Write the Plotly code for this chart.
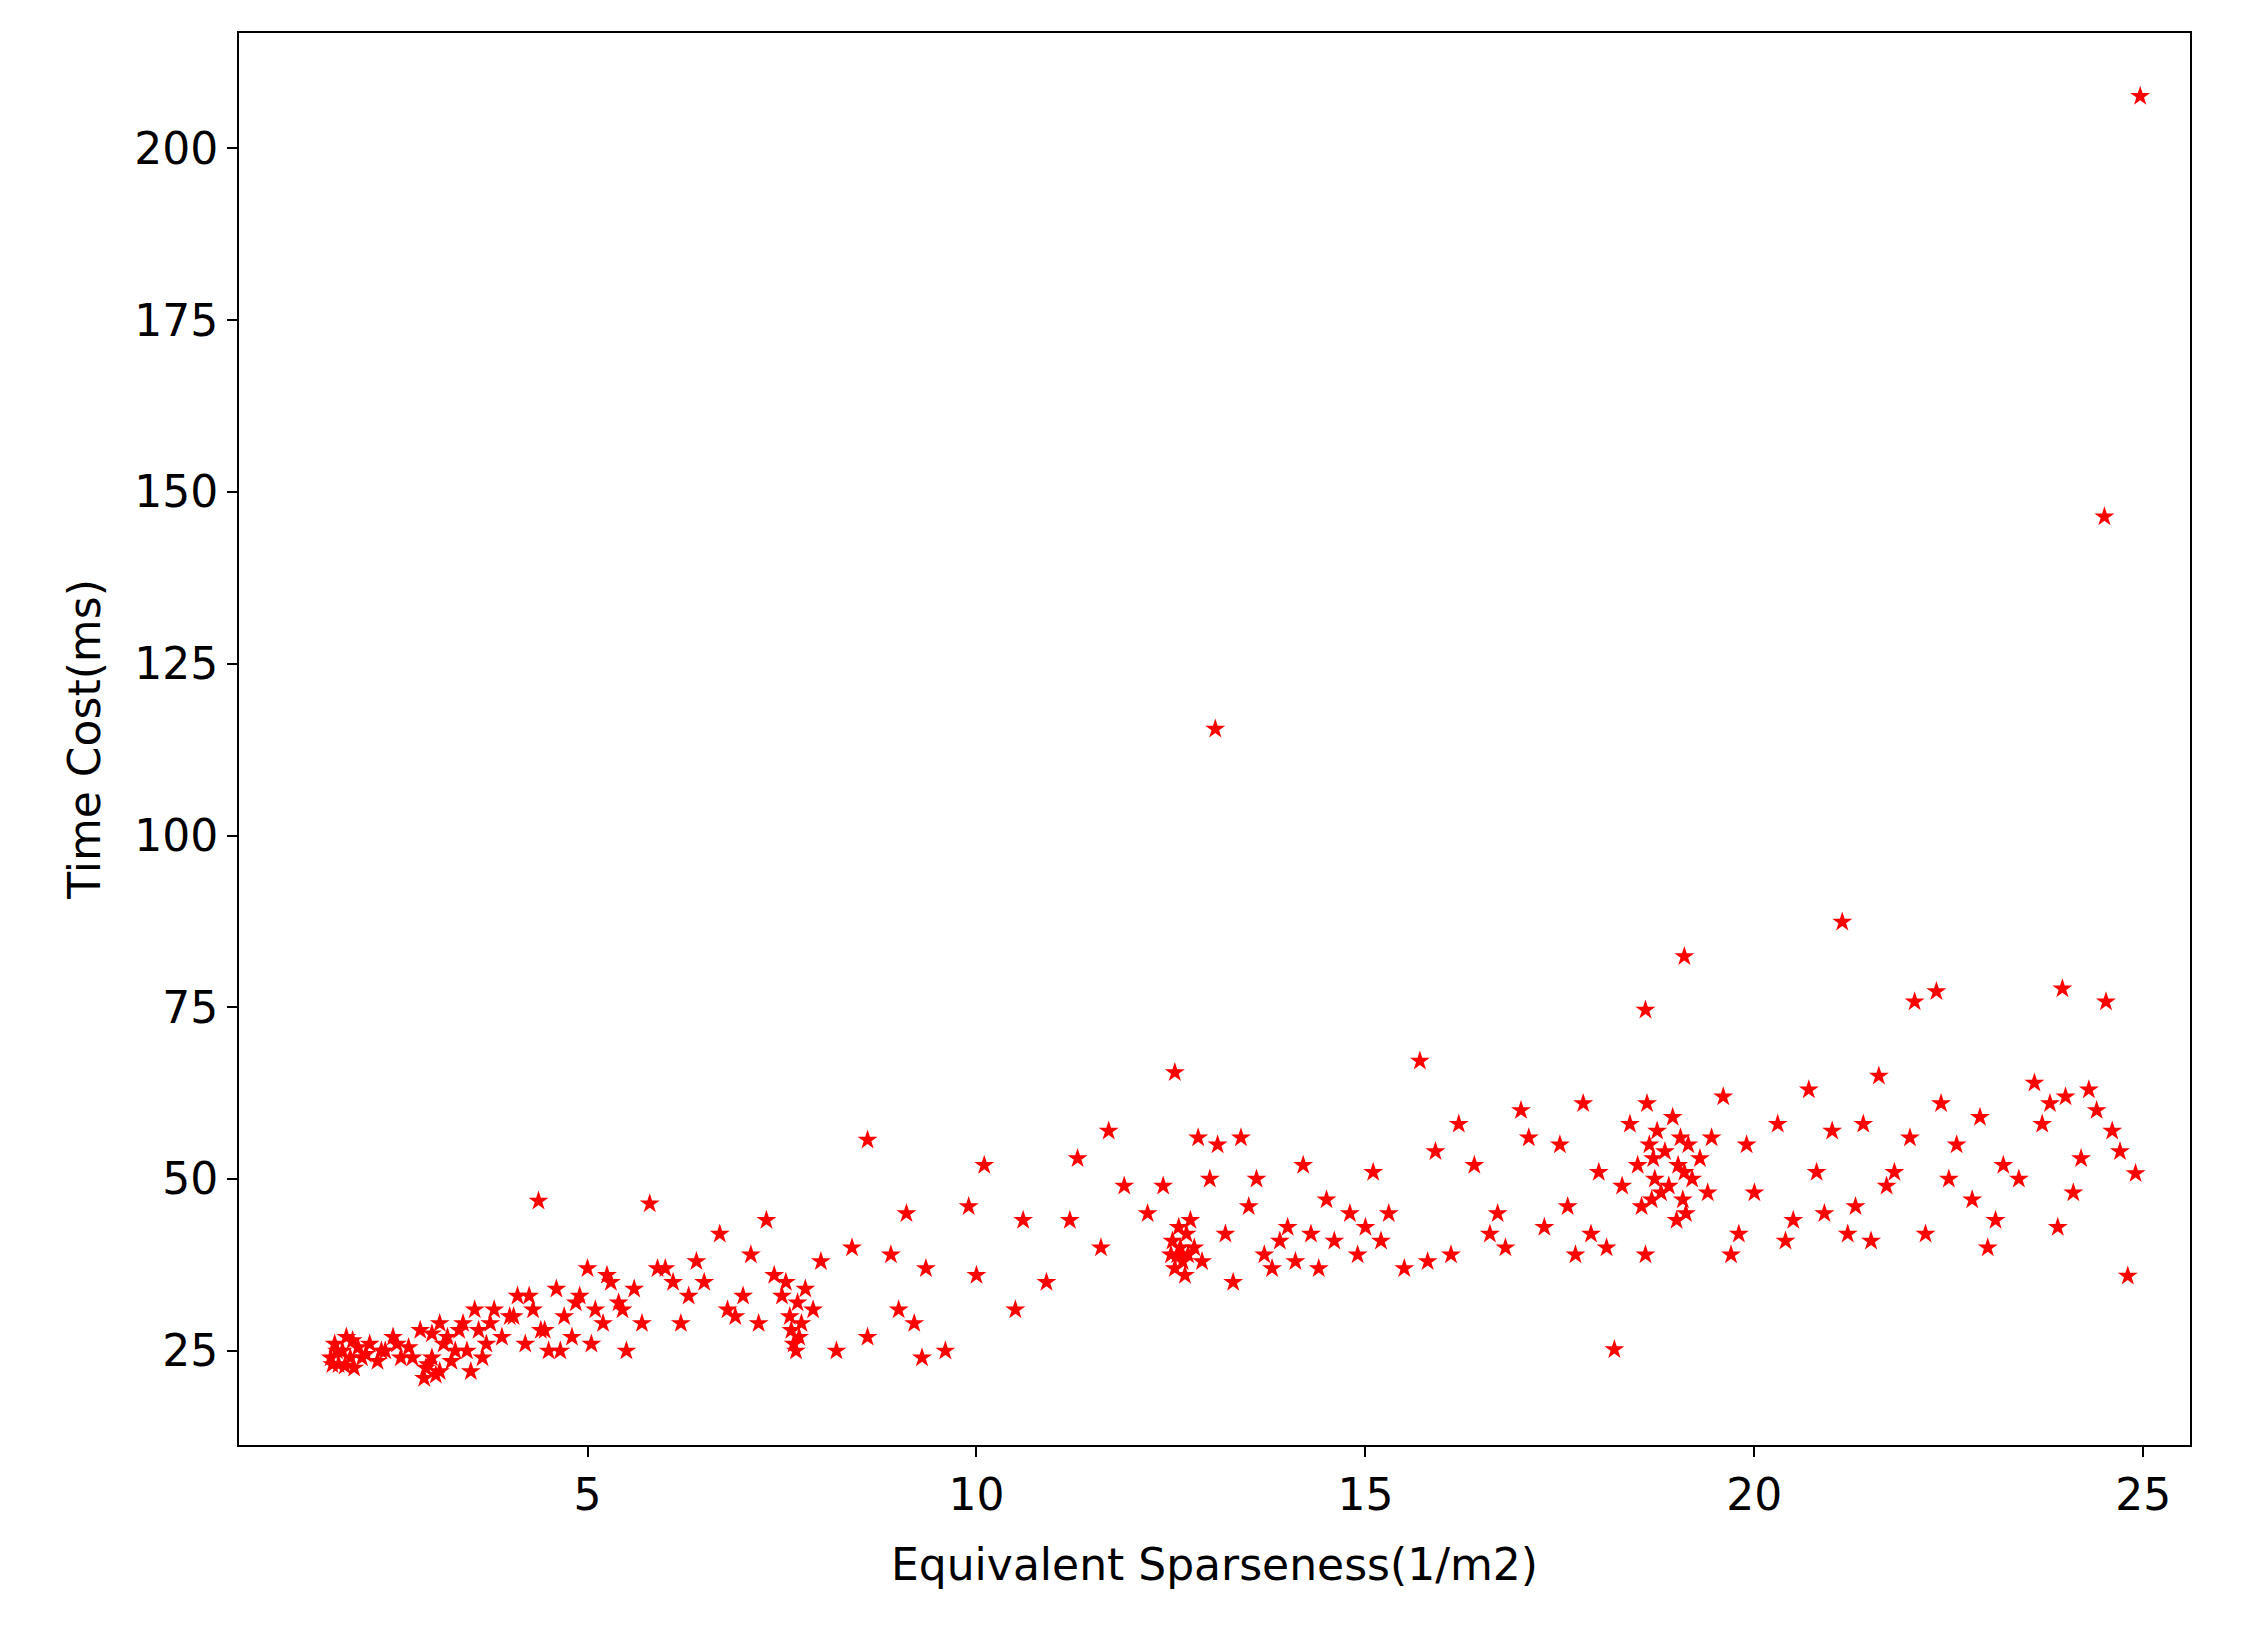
import plotly.graph_objects as go

x_vals = [
 24.96,24.5,13.07,21.13,19.1,18.6,23.96,22.34,24.52,22.06,18.2,24.8,24.9,12.55,15.7,8.6,4.37,5.8,
 1.7,1.75,1.8,1.85,1.9,1.95,2.0,2.05,2.1,2.2,2.3,2.4,2.5,2.6,2.7,1.72,1.78,1.88,1.98,2.15,2.35,2.55,2.75,2.85,
 2.9,2.95,3.0,3.1,3.2,3.3,3.4,3.5,3.6,3.7,3.8,3.9,4.0,3.05,3.15,3.25,3.35,3.45,3.55,3.65,3.75,2.92,3.0,3.1,
 4.1,4.2,4.3,4.4,4.5,4.6,4.7,4.8,4.9,5.0,5.1,5.2,5.3,5.4,5.5,5.6,5.7,4.05,4.25,4.45,4.65,4.85,5.05,5.25,5.45,
 5.9,6.0,6.1,6.2,6.3,6.4,6.5,6.7,6.8,6.9,7.0,7.1,7.2,7.3,7.4,7.5,7.55,7.6,7.62,7.65,7.68,7.7,7.72,7.75,7.8,7.9,8.0,8.2,8.4,8.6,
 8.9,9.0,9.1,9.2,9.3,9.35,9.6,9.9,10.0,10.1,10.5,10.6,10.9,11.2,11.3,11.6,11.7,11.9,12.2,12.4,
 12.5,12.52,12.55,12.58,12.6,12.62,12.65,12.68,12.7,12.72,12.75,12.8,12.85,12.9,13.0,13.1,13.2,13.3,13.4,13.5,13.6,13.7,13.8,13.9,14.0,
 14.1,14.2,14.3,14.4,14.5,14.6,14.8,14.9,15.0,15.1,15.2,15.3,15.5,15.8,15.9,16.1,16.2,16.4,16.6,16.7,16.8,17.0,17.1,17.3,17.5,17.6,17.7,17.8,17.9,18.0,18.1,
 18.3,18.4,18.5,18.55,18.6,18.62,18.65,18.68,18.7,18.72,18.75,18.8,18.85,18.9,18.95,19.0,19.02,19.05,19.08,19.1,19.12,19.15,19.2,19.3,19.4,19.45,
 19.6,19.7,19.8,19.9,20.0,20.3,20.4,20.5,20.7,20.8,20.9,21.0,21.2,21.3,21.4,21.5,21.6,21.7,21.8,22.0,22.2,22.4,22.5,22.6,22.8,22.9,23.0,23.1,23.2,23.4,23.6,23.7,23.8,23.9,24.0,24.1,24.2,24.3,24.4,24.6,24.7,
]
y_vals = [
 207.6,146.4,115.5,87.4,82.4,74.6,77.7,77.3,75.8,75.8,25.2,35.9,50.8,65.5,67.2,55.7,46.8,46.4,
 24,26,23,25,27,24,22.5,25.5,24,26,23.5,25,27,24,25.5,23,25,22.8,26.5,24.5,25,26,24,28,
 21,23,24,22,27,25,29,22,28,26,31,27,30,21.5,26,23.5,28,25,31,24,29,22.5,27.5,29,
 33,26,31,28,25,34,30,27,33,37,31,29,35,32,25,34,29,30,33,28,25,32,26,36,31,37,
 37,35,29,33,38,35,42,31,30,33,39,29,44,36,33,35,30,28,26,25,32,27,29,34,31,38,25,40,27,39,
 31,45,29,24,37,25,46,36,52,31,44,35,44,53,40,57,49,45,49,39,
 41,37,39,43,40,38,36,42,39,44,40,56,38,50,55,42,35,56,46,50,39,37,41,43,38,
 52,42,37,47,41,45,39,43,51,41,45,37,38,54,39,58,52,42,45,40,60,56,43,55,46,39,61,42,51,40,49,
 58,52,46,39,61,55,47,53,50,57,48,54,49,59,44,52,56,47,51,45,55,50,53,48,56,62,
 39,42,55,48,58,41,44,63,51,45,57,42,46,58,41,65,49,51,56,42,61,50,55,47,59,40,44,52,50,64,58,61,43,62,48,53,63,60,57,54,60,
]

fig = go.Figure(go.Scatter(
    x=x_vals, y=y_vals, mode="markers",
    marker=dict(symbol="star", color="red", size=15, line=dict(width=0)),
))
font = dict(family="DejaVu Sans", size=44, color="black")
axis = dict(showgrid=False, zeroline=False, showline=True, linecolor="black", linewidth=2,
            mirror=True, ticks="outside", ticklen=10, tickwidth=2, tickcolor="black", tickfont=font)
fig.update_layout(
    width=2266, height=1630, plot_bgcolor="white", paper_bgcolor="white",
    margin=dict(l=231, r=84, t=25, b=193), showlegend=False,
    xaxis=dict(axis, range=[0.52, 25.6], tickvals=[5, 10, 15, 20, 25],
               title=dict(text="Equivalent Sparseness(1/m2)", font=font, standoff=30)),
    yaxis=dict(axis, range=[11.3, 216.8], tickvals=[25, 50, 75, 100, 125, 150, 175, 200],
               title=dict(text="Time Cost(ms)", font=font, standoff=20)),
)
fig.write_html("out.html")
